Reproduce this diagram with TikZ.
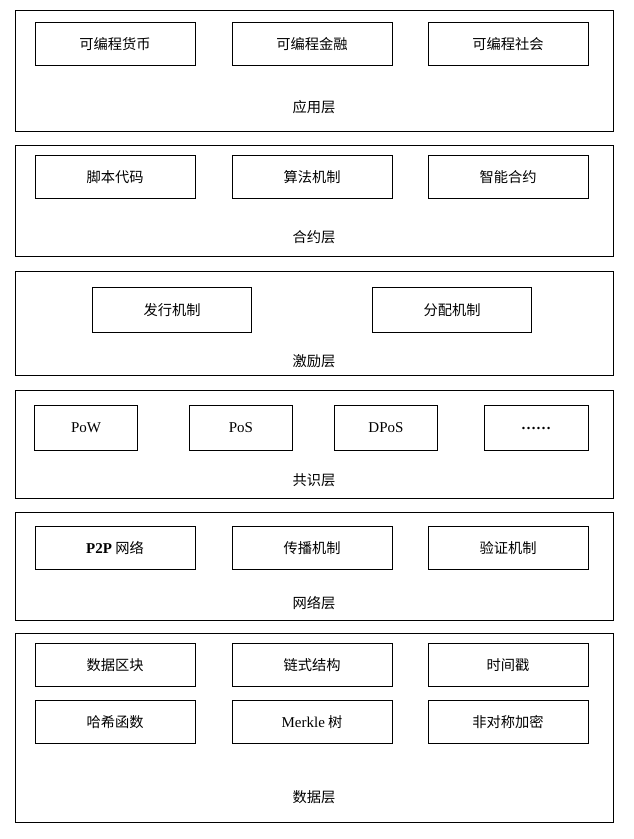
\documentclass[tikz,border=0pt]{standalone}
\usepackage{fontspec}
\setmainfont{Liberation Serif}
\newfontfamily\cjk{Noto Sans CJK SC}[Scale=0.95]
\begin{document}
\begin{tikzpicture}[x=1pt,y=-1pt,
 layer/.style={draw,line width=1pt},
 cell/.style={draw,line width=1pt,minimum height=43pt,inner sep=0pt,font=\fontsize{15}{18}\selectfont\cjk},
 lbl/.style={font=\fontsize{15}{18}\selectfont\cjk}]
\useasboundingbox (0,0) rectangle (633,839);
\fill[white] (0,0) rectangle (633,839);
% layer 1
\draw[layer] (15,10) rectangle (613,131);
\node[cell,minimum width=160pt] (a1) at (115,44) {可编程货币};
\node[cell,minimum width=160pt] (a2) at (312,44) {可编程金融};
\node[cell,minimum width=160pt] (a3) at (508,44) {可编程社会};
\node[lbl] (la) at (314,107) {应用层};
% layer 2
\draw[layer] (15,145) rectangle (613,256);
\node[cell,minimum width=160pt] (b1) at (115,177) {脚本代码};
\node[cell,minimum width=160pt] (b2) at (312,177) {算法机制};
\node[cell,minimum width=160pt] (b3) at (508,177) {智能合约};
\node[lbl] (lb) at (314,237) {合约层};
% layer 3
\draw[layer] (15,271) rectangle (613,375);
\node[cell,minimum width=159pt,minimum height=45pt] (c1) at (172,310) {发行机制};
\node[cell,minimum width=159pt,minimum height=45pt] (c2) at (452,310) {分配机制};
\node[lbl] (lc) at (314,361) {激励层};
% layer 4
\draw[layer] (15,390) rectangle (613,498);
\node[cell,minimum width=103pt,minimum height=45pt,font=\fontsize{15}{18}\selectfont] (d1) at (86,428) {PoW};
\node[cell,minimum width=103pt,minimum height=45pt,font=\fontsize{15}{18}\selectfont] (d2) at (241,428) {PoS};
\node[cell,minimum width=103pt,minimum height=45pt,font=\fontsize{15}{18}\selectfont] (d3) at (386,428) {DPoS};
\node[cell,minimum width=104pt,minimum height=45pt,font=\fontsize{15}{18}\selectfont] (d4) at (536,428) {\textbf{……}};
\node[lbl] (ld) at (314,480) {共识层};
% layer 5
\draw[layer] (15,512) rectangle (613,620);
\node[cell,minimum width=160pt] (e1) at (115,548) {{\rmfamily\bfseries P2P} 网络};
\node[cell,minimum width=160pt] (e2) at (312,548) {传播机制};
\node[cell,minimum width=160pt] (e3) at (508,548) {验证机制};
\node[lbl] (le) at (314,603) {网络层};
% layer 6
\draw[layer] (15,633) rectangle (613,822);
\node[cell,minimum width=160pt] (f1) at (115,665) {数据区块};
\node[cell,minimum width=160pt] (f2) at (312,665) {链式结构};
\node[cell,minimum width=160pt] (f3) at (508,665) {时间戳};
\node[cell,minimum width=160pt] (f4) at (115,722) {哈希函数};
\node[cell,minimum width=160pt] (f5) at (312,722) {{\rmfamily Merkle} 树};
\node[cell,minimum width=160pt] (f6) at (508,722) {非对称加密};
\node[lbl] (lf) at (314,797) {数据层};
\end{tikzpicture}
\end{document}
